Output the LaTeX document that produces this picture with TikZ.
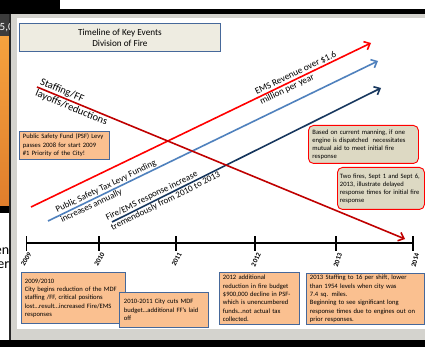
\documentclass[tikz,border=0pt]{standalone}
\usepackage{fontspec}
\setmainfont{Carlito}
\usetikzlibrary{arrows.meta,positioning,calc}

\definecolor{boxorange}{HTML}{FAC090}
\definecolor{boxblue}{HTML}{46689A}
\definecolor{titlefill}{HTML}{EEECE1}
\definecolor{notefill}{HTML}{DDD9C3}
\definecolor{levyblue}{HTML}{4F81BD}
\definecolor{firenavy}{HTML}{17375E}
\definecolor{staffred}{HTML}{C00000}
\definecolor{framegray}{HTML}{D4D3CE}
\definecolor{stripgray}{HTML}{3C3C3C}
\definecolor{striplight}{HTML}{F5A23E}
\definecolor{stripdark}{HTML}{E07E2C}

\begin{document}
\begin{tikzpicture}
    [x=1pt,y=-1pt,>={Straight Barb[length=5pt,width=9pt]},
     trend/.style={line width=1.6pt,->},
     trendlabel/.style={sloped,align=left,inner sep=0pt,text=black,font=\fontsize{9}{11}\selectfont},
     eventbox/.style={draw=boxblue,fill=boxorange,line width=0.9pt,anchor=north west,align=left,
                      inner xsep=3.5pt,inner ysep=1.5pt,font=\fontsize{6.6}{8.3}\selectfont},
     notebox/.style={draw=red,fill=notefill,line width=0.9pt,rounded corners=5pt,anchor=north west,
                     align=left,inner xsep=4pt,inner ysep=2pt,font=\fontsize{6.6}{8}\selectfont},
     yearlabel/.style={anchor=east,inner sep=0pt,font=\bfseries\fontsize{7}{8}\selectfont},
     cuttext/.style={inner sep=0pt,font=\fontsize{14}{16}\selectfont}]

    \useasboundingbox (0,0) rectangle (425,347);
    \fill[white] (0,0) rectangle (425,347);
    \fill[black] (0,0) rectangle (60,9);
    \fill[black] (0,9) rectangle (425,14);
    \fill[black] (0,340) rectangle (425,347);
    \fill[framegray] (10.5,14) rectangle (425,340);
    \fill[white] (17,18) rectangle (425,329);
    \fill[stripgray] (0,14) rectangle (9,36);
    \shade[top color=striplight,bottom color=stripdark] (0,37) rectangle (9,206);
    \fill[black] (0,206) rectangle (9,213);
    \fill[black!85] (9,14) rectangle (10.5,340);
    \begin{scope}
        \clip (0,14) rectangle (9,36);
        \node[anchor=base west,text=white,inner sep=0pt,font=\fontsize{11}{13}\selectfont] (cutA) at (-0.5,31) {5,0};
    \end{scope}
    \begin{scope}
        \clip (0,213) rectangle (9,340);
        \node[cuttext,anchor=base east] (cutB) at (9.5,254) {en};
        \node[cuttext,anchor=base east] (cutC) at (9.5,268) {er};
    \end{scope}

    \node[draw=boxblue,fill=titlefill,line width=0.9pt,anchor=north west,minimum width=201pt,minimum height=28pt,
          align=center,font=\fontsize{9.2}{11}\selectfont] (title) at (19,23) {Timeline of Key Events\\Division of Fire};

    \coordinate (staffA) at (37,87);
    \coordinate (staffB) at (405,239);
    \coordinate (emsA) at (31,207);
    \coordinate (emsB) at (371,43);
    \coordinate (levyA) at (48,221);
    \coordinate (levyB) at (378,61);
    \coordinate (callA) at (112,222);
    \coordinate (callB) at (381,88);

    \draw[trend,red] (emsA) -- (emsB)
        node[trendlabel,pos=0.786,font=\fontsize{9.3}{11}\selectfont] (emsrev) {EMS Revenue over \$1.6\\million per year};
    \draw[trend,levyblue] (levyA) -- (levyB)
        node[trendlabel,pos=0.183] (levy) {Public Safety Tax Levy Funding\\increases annually};
    \draw[trend,firenavy] (callA) -- (callB)
        node[trendlabel,pos=0.19] (calls) {Fire/EMS response increase\\tremendously from 2010 to 2013};
    \draw[trend,staffred] (staffA) -- (staffB)
        node[trendlabel,pos=0.1,font=\fontsize{10.5}{12.5}\selectfont] (staffing) {Staffing/FF\\layoffs/reductions};

    \coordinate (axisA) at (26,243);
    \coordinate (axisB) at (413,243);
    \draw[line width=1.4pt] (axisA) -- (axisB);
    \foreach \yr/\tx/\ang/\tw in {2009/26/58/1,2010/99/60/2.6,2011/176/62/2.6,2012/255/66/2.6,2013/336/72/2.6,2014/413/76/2.6}
    {
        \draw[line width=\tw pt] (\tx,236) -- (\tx,251);
        \node[yearlabel,rotate=\ang] (yr\yr) at (\tx+4,253) {\yr};
    }

    \node[eventbox,text width=83pt,minimum height=28pt,inner ysep=1pt,font=\fontsize{6.6}{8.5}\selectfont] (psf) at (19,131)
        {Public Safety Fund (PSF) Levy\\passes 2008 for start 2009\\\#1 Priority of the City!};

    \node[notebox,text width=102pt,minimum height=38pt] (manning) at (308,125)
        {Based on current manning, if one\\engine is dispatched~ necessitates\\mutual aid to meet initial fire\\response};
    \node[notebox,text width=82pt,minimum height=42pt,inner xsep=2.5pt] (twofires) at (337,167)
        {Two fires, Sept 1 and Sept 6,\\2013, illustrate delayed\\response times for initial fire\\response};

    \node[eventbox,text width=97pt,minimum height=51pt] (ev0910) at (21,272)
        {2009/2010\\City begins reduction of the MDF\\staffing /FF, critical positions\\lost…result…increased Fire/EMS\\responses};
    \node[eventbox,text width=80pt,minimum height=35pt,inner xsep=4.5pt] (ev1011) at (119,292)
        {2010-2011 City cuts MDF\\budget…additional FF’s laid\\off};
    \node[eventbox,text width=73pt,minimum height=52pt] (ev12) at (219,272)
        {2012 additional\\reduction in fire budget\\\$900,000 decline in PSF-\\which is unencumbered\\funds…not actual tax\\collected.};
    \node[eventbox,text width=111pt,minimum height=51pt] (ev13) at (306,273)
        {2013 Staffing to 16 per shift, lower\\than 1954 levels when city was\\7.4 sq. miles.\\Beginning to see significant long\\response times due to engines out on\\prior responses.};

\end{tikzpicture}
\end{document}
